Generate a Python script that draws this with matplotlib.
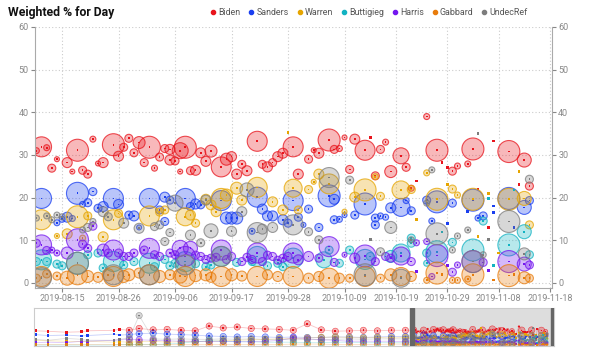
import numpy as np
import pandas as pd
import matplotlib
matplotlib.use("Agg")
import matplotlib.pyplot as plt
import matplotlib.dates as mdates
from matplotlib.colors import to_rgba
from matplotlib.lines import Line2D

plt.rcParams['font.family'] = ['Roboto', 'DejaVu Sans']

# day offsets are counted from 2019-08-15
base = pd.Timestamp('2019-08-15')

names = ['Biden', 'Sanders', 'Warren', 'Buttigieg', 'Harris', 'Gabbard', 'UndecRef']
colors = ['#e8141c', '#1a3ff0', '#e6a500', '#12b3c2', '#7417ef', '#e87c0c', '#7d7d7d']

# Biden
biden_day = [-5, -4, -3, -2, -1, 1, 2, 3, 4, 5, 6, 7, 8, 10, 11, 12, 13, 14, 15, 16, 17, 18, 19, 20, 21, 21, 22, 23, 23, 24,
             25, 26, 27, 28, 29, 31, 32, 33, 34, 35, 36, 38, 39, 40, 41, 42, 43, 45, 46, 48, 49, 50, 52, 53, 54, 55, 56, 57,
             59, 60, 61, 62, 63, 64, 66, 67, 68, 69, 71, 73, 74, 75, 76, 77, 79, 80, 81, 83, 84, 87, 89, 90, 91]
biden_val = [31.0, 31.9, 31.7, 26.9, 29.0, 28.2, 26.1, 31.1, 26.4, 25.5, 33.7, 28.0, 28.2, 32.4, 29.7, 31.8, 33.9, 30.5, 32.9,
             28.2, 31.8, 26.9, 29.5, 31.5, 28.8, 31.3, 28.6, 31.0, 26.1, 31.8, 26.3, 26.4, 30.5, 28.5, 30.9, 27.2, 29.0, 29.6,
             25.5, 27.8, 26.3, 33.2, 27.8, 27.2, 28.2, 29.6, 30.4, 31.9, 25.5, 29.0, 31.1, 30.4, 33.5, 31.3, 31.5, 34.1, 26.6,
             33.7, 31.1, 34.1, 25.1, 31.3, 33.0, 26.1, 29.8, 27.1, 22.2, 23.9, 39.0, 31.1, 28.2, 27.0, 26.2, 27.4, 27.9, 31.4,
             22.0, 13.0, 33.3, 30.8, 23.0, 28.8, 22.7]
biden_wt = [3, 10, 3, 4, 2.5, 5, 2.5, 11, 4, 4, 3, 2.5, 5, 11, 5, 4, 4, 4, 6, 4, 11, 3, 4, 4, 5, 5, 4, 8, 2.5, 11, 4, 5, 5, 5, 6,
            10, 6, 5, 5, 4, 5, 10, 4, 5, 4, 5, 5, 10, 5, 4, 2.5, 5, 11, 4, 3, 2.5, 4, 5, 10, 0, 4, 4, 3, 6, 8, 4, 3, 0, 3, 11,
            0, 0, 4, 3, 3, 11, 0, 0, 0, 11, 0, 7, 4]

# Sanders
sanders_day = [-4, 3, 6, 5, 4, 1, 2, 0, -1, 10, 11, 8, 7, 14, 13, 17, 20, 19, 20, 15, 21, 24, 26, 27, 25, 31, 32, 33, 34, 38,
               39, 40, 41, 43, 44, 37, 45, 48, 46, 50, 47, 52, 53, 53, 54, 55, 57, 59, 61, 61, 62, 63, 64, 66, 68, 67, 71, 72,
               75, 76, 73, 80, 81, 82, 79, 84, 84, 87, 90, 91, 88]
sanders_val = [19.8, 21.0, 21.4, 18.8, 18.4, 15.4, 15.1, 14.9, 14.1, 19.8, 18.4, 17.9, 17.5, 15.7, 15.9, 19.8, 20.1, 17.1, 14.4,
               13.0, 19.4, 19.8, 18.5, 18.3, 17.9, 19.3, 15.2, 15.2, 15.2, 20.1, 17.3, 15.7, 15.7, 14.8, 14.0, 12.1, 19.3, 17.3,
               15.4, 13.0, 13.6, 20.4, 19.6, 14.8, 14.9, 15.9, 15.9, 18.5, 13.6, 15.2, 15.7, 15.4, 17.6, 17.7, 16.9, 19.3, 19.4,
               14.5, 14.0, 18.7, 19.0, 19.4, 15.2, 15.7, 16.7, 18.0, 16.5, 19.8, 17.7, 19.3, 13.0]
sanders_wt = [10, 11, 4, 4, 3, 5, 3, 3, 3, 10, 5, 5, 4, 5, 4, 10, 5, 4, 4, 2.5, 4, 10, 5, 4, 4, 10, 6, 6, 6, 10, 5, 5, 5, 5, 4,
              3, 10, 4, 4, 4, 2.5, 11, 5, 4, 3, 2.5, 4, 11, 4, 4, 3, 3, 5, 9, 4, 3, 4, 3, 0, 4, 11, 11, 3, 4, 0, 0, 0, 11, 7,
              4, 0]

# Warren
warren_day = [-4, 3, -1, 1, 8, 5, 10, 11, 17, 19, 20, 4, 24, 25, 28, 29, 32, 34, 35, 38, 41, 43, 45, 31, 26, 30, 44, 50, 49,
              48, 52, 55, 57, 59, 61, 62, 66, 68, 69, 46, 71, 73, 76, 77, 75, 80, 83, 89, 87, 90, 91, 81, 85]
warren_val = [14.8, 15.5, 11.0, 11.5, 10.8, 15.7, 14.8, 16.3, 15.7, 16.6, 17.1, 10.5, 15.5, 15.9, 19.6, 18.3, 20.6, 22.2, 19.4,
              22.4, 19.0, 17.1, 22.2, 19.8, 14.0, 16.7, 35.2, 25.5, 23.7, 21.9, 23.2, 16.7, 20.1, 21.8, 24.9, 20.3, 21.8, 21.9,
              14.8, 17.1, 25.8, 19.6, 22.0, 20.6, 23.0, 19.6, 21.0, 26.1, 19.6, 19.8, 13.6, 10.9, 7.0]
warren_wt = [10, 11, 2.5, 5, 5, 4, 10, 4, 10, 4, 4, 3, 9, 5, 5, 5, 6, 6, 5, 10, 5, 5, 9, 10, 4, 5, 0, 5, 2.5, 4, 10, 2.5, 5, 11,
             3, 4, 9, 4, 0, 4, 3, 11, 4, 3, 0, 11, 0, 0, 11, 7, 4, 0, 0]

# Buttigieg
buttigieg_day = [-5, -3, -4, 3, 0, -1, 5, 7, 10, 12, 14, 17, 18, 20, 21, 8, 22, 24, 28, 31, 34, 37, 38, 42, 45, 26, 29, 40, 43,
                 51, 52, 54, 56, 59, 60, 64, 66, 68, 68, 71, 73, 74, 76, 71, 80, 82, 83, 84, 87, 90, 91, 88]
buttigieg_val = [5.0, 5.0, 5.4, 4.6, 4.0, 4.4, 6.6, 7.0, 5.0, 4.2, 5.0, 4.6, 3.8, 5.5, 4.0, 3.5, 4.6, 5.0, 3.8, 6.2, 4.8, 5.0,
                 6.2, 4.6, 5.8, 4.5, 4.2, 4.0, 3.8, 5.4, 7.7, 4.6, 7.7, 5.5, 6.2, 6.2, 7.0, 9.3, 10.5, 7.0, 7.3, 11.9, 9.5,
                 4.6, 7.7, 14.5, 19.8, 4.0, 8.9, 12.0, 6.6, 21.8]
buttigieg_wt = [4, 4, 10, 11, 4, 4, 4, 4, 10, 4, 4, 10, 4, 4, 4, 4, 4, 10, 4, 10, 4, 4, 10, 4, 10, 4, 4, 4, 4, 8, 4, 4, 4, 10,
                4, 6, 9, 4, 4, 4, 11, 0, 4, 3, 11, 4, 0, 0, 11, 7, 4, 0]

# Harris
harris_day = [-4, -5, -3, -2, -1, 3, 1, 4, 5, 6, 8, 9, 10, 11, 12, 13, 14, 17, 16, 18, 19, 21, 22, 23, 25, 24, 27, 29, 31, 33,
              35, 38, 39, 41, 43, 45, 26, 28, 30, 32, 36, 37, 40, 42, 44, 46, 48, 50, 52, 53, 55, 57, 59, 61, 63, 64, 66, 68,
              69, 69, 71, 73, 72, 76, 77, 75, 80, 82, 83, 87, 90, 91]
harris_val = [8.9, 9.3, 7.6, 7.7, 7.0, 10.1, 7.0, 9.1, 8.1, 13.3, 7.7, 7.0, 7.7, 7.0, 6.2, 6.2, 7.0, 8.1, 7.7, 6.6, 6.2, 7.0,
              6.6, 8.1, 8.1, 6.2, 6.2, 5.8, 7.7, 6.2, 5.0, 7.0, 5.0, 6.2, 5.8, 7.0, 6.5, 5.5, 6.0, 5.5, 6.0, 5.5, 6.5, 5.3,
              6.2, 5.4, 6.2, 5.8, 8.5, 4.8, 6.6, 5.8, 6.3, 5.0, 6.2, 5.8, 6.3, 5.0, 2.7, 9.4, 9.7, 6.4, 1.5, 2.5, 4.2, 4.0,
              5.0, 4.8, 2.9, 5.0, 4.4, 4.2]
harris_wt = [10, 4, 4, 3, 3, 11, 6, 4, 4, 4, 6, 4, 10, 4, 4, 4, 4, 10, 4, 4, 4, 4, 4, 8, 7, 10, 4, 4, 10, 4, 4, 10, 4, 4, 4, 10,
             4, 4, 4, 4, 4, 4, 4, 4, 4, 5, 5, 4, 10, 4, 2.5, 5, 11, 4, 4, 4, 9, 4, 0, 3, 3, 11, 3, 4, 3, 0, 11, 4, 0, 11, 7, 4]

# Gabbard
gabbard_day = [-4, -5, -3, -1, 1, 3, 5, 7, 9, 10, 12, 13, 15, 17, 19, 21, 23, 24, 26, 28, 29, 31, 33, 35, 38, 40, 42, 45, 48,
               50, 52, 54, 56, 59, 62, 64, 66, 68, 71, 73, 76, 77, 74, 80, 79, 84, 87, 90, 91, 88]
gabbard_val = [1.5, 1.1, 2.1, 1.6, 1.1, 1.9, 1.5, 1.3, 1.9, 1.5, 1.5, 1.9, 2.3, 1.9, 1.5, 1.9, 1.6, 1.5, 1.7, 1.9, 1.3, 1.5,
               1.9, 1.6, 1.5, 1.9, 1.5, 1.5, 1.1, 1.5, 1.1, 1.1, 1.1, 1.5, 1.1, 1.9, 1.5, 1.5, 0.6, 2.3, 0.6, 0.6, 1.9, 1.9,
               0.9, 0.7, 1.7, 1.2, 1.1, 1.9]
gabbard_wt = [10, 4, 4, 4, 7, 10, 6, 5, 6, 10, 6, 6, 5, 10, 6, 5, 7, 10, 6, 6, 5, 10, 6, 5, 10, 5, 5, 10, 5, 5, 10, 5, 4, 10, 4,
              6, 9, 5, 3, 11, 3, 3, 0, 11, 3, 0, 11, 6, 4, 0]

# UndecRef
undec_day = [-5, -3, -2, -1, 0, 6, 5, 4, 8, 9, 12, 15, 18, 19, 20, 22, 21, 25, 27, 29, 33, 35, 36, 39, 41, 28, 48, 50, 56, 60,
             62, 64, 81, 72, 77, 76, 79, 83, 82, 91, 90, 71, 68, -4, 3, 10, 17, 24, 31, 38, 45, 52, 59, 66, 73, 80, 87]
undec_val = [15.2, 15.7, 14.8, 15.9, 15.5, 14.4, 13.0, 12.4, 16.7, 15.5, 14.0, 12.8, 13.2, 13.6, 9.7, 18.7, 11.8, 11.2, 9.4,
             12.2, 12.1, 16.7, 21.8, 12.6, 13.0, 19.4, 12.0, 10.1, 24.1, 10.1, 7.3, 13.0, 35.0, 26.5, 11.0, 7.7, 12.4, 10.1,
             6.6, 24.3, 6.8, 18.7, 10.1, 1.2, 4.6, 1.9, 1.9, 4.2, 6.2, 11.8, 13.6, 24.7, 1.9, 1.1, 11.5, 5.0, 14.4]
undec_wt = [3, 3, 3, 3, 3, 3, 4, 3, 5, 4, 5, 5, 4, 4, 4, 8, 4, 5, 4, 7, 5, 5, 7, 5, 5, 5, 4, 4, 4, 0, 4, 6, 0, 3, 3, 3, 3, 0, 3,
            4, 6, 3, 3, 10, 11, 10, 10, 10, 10, 10, 10, 10, 11, 9, 11, 11, 11]

# navigator history before the main window (day offsets from 2019-08-15)
nav_day = [-274, -265, -252, -241, -237, -218, -214, -207, -200, -190, -180, -170, -160, -150, -140, -130, -120, -110,
           -100, -90, -80, -70, -60, -50, -40, -30, -20, -10]
nav_wt = [0, 0, 0, 0, 0, 0, 0, 9, 9, 9, 9, 9, 9, 9, 9, 9, 9, 9, 9, 9, 9, 9, 9, 9, 9, 9, 9, 9]
nav_biden = [30, 29, 27, 28, 30, 31, 33, 31, 35, 32, 33, 31, 30, 40, 36, 38, 35, 34, 33, 31, 45, 32, 29, 30, 31, 30, 31, 31]
nav_sanders = [22, 20, 21, 19, 20, 23, 21, 22, 24, 25, 23, 22, 21, 19, 18, 17, 18, 17, 16, 17, 16, 16, 17, 17, 16, 17, 18, 18]
nav_warren = [10, 9, 8, 7, 8, 6, 7, 6, 7, 8, 6, 7, 7, 8, 9, 10, 11, 12, 13, 14, 15, 16, 17, 16, 15, 16, 15, 16]
nav_buttigieg = [0, 0, 0, 0, 0, 0, 1, 1, 1, 1, 2, 4, 7, 9, 8, 7, 7, 6, 6, 6, 5, 5, 6, 6, 5, 5, 5, 5]
nav_harris = [5, 6, 5, 8, 8, 10, 11, 12, 11, 10, 9, 8, 8, 7, 8, 7, 7, 8, 10, 15, 13, 11, 10, 8, 8, 8, 8, 7]
nav_gabbard = [1, 1, 1, 1, 1, 1, 1, 1, 1, 1, 1, 1, 1, 1, 1, 1, 1, 1, 1, 2, 2, 2, 1, 1, 1, 1, 2, 2]
nav_undec = [12, 10, 14, 12, 10, 10, 12, 15, 62, 13, 12, 13, 12, 12, 13, 12, 13, 12, 12, 11, 12, 11, 12, 13, 12, 13, 13, 13]

series = [
    (biden_day, biden_val, biden_wt, nav_biden),
    (sanders_day, sanders_val, sanders_wt, nav_sanders),
    (warren_day, warren_val, warren_wt, nav_warren),
    (buttigieg_day, buttigieg_val, buttigieg_wt, nav_buttigieg),
    (harris_day, harris_val, harris_wt, nav_harris),
    (gabbard_day, gabbard_val, gabbard_wt, nav_gabbard),
    (undec_day, undec_val, undec_wt, nav_undec),
]


def to_num(days):
    return mdates.date2num(base + pd.to_timedelta(np.asarray(days, float), unit='D'))


def bubbles(ax, days, vals, wts, color, scale=1.0, dot=1.5):
    x = to_num(days)
    v = np.asarray(vals, float)
    w = np.asarray(wts, float) * scale
    big = w > 0
    ax.scatter(x[big], v[big], s=(1.44 * w[big]) ** 2, facecolor=to_rgba(color, 0.3),
               edgecolor=to_rgba(color, 0.75), linewidth=0.8 * max(scale, 0.5))
    ax.scatter(x, v, s=np.where(big, dot, dot * 2.5), color=color, linewidth=0, marker='s')


fig = plt.figure(figsize=(6, 3.51), dpi=100)

ax = fig.add_axes([35 / 600, 1 - 288 / 351, 517 / 600, 261 / 351])
for (d, v, w, _), c in zip(series, colors):
    bubbles(ax, d, v, w, c)

ax.set_ylim(-1.2, 60)
ax.set_xlim(to_num([-5.27])[0], to_num([95.4])[0])
ax.set_yticks(range(0, 61, 10))
tick_days = [0, 11, 22, 33, 44, 55, 65, 75, 85, 95]
ax.set_xticks(to_num(tick_days))
ax.xaxis.set_major_formatter(mdates.DateFormatter('%Y-%m-%d'))
ax.grid(True, color='#cccccc', linestyle=(0, (1, 2)), linewidth=0.8)
ax.set_axisbelow(True)
ax.tick_params(axis='both', labelsize=6.5, colors='#888888', length=3, width=0.8, pad=1.5)
ax.tick_params(axis='y', right=True, labelright=True)
ax.spines['top'].set_visible(False)
for s in ['left', 'right', 'bottom']:
    ax.spines[s].set_color('#aaaaaa')

# navigator
nav = fig.add_axes([34 / 600, 1 - 346 / 351, 520 / 600, 38 / 351])
for (d, v, w, nv), c in zip(series, colors):
    all_d = np.array(nav_day + list(d), float)
    all_v = np.array(nv + list(v), float)
    order = np.argsort(all_d)
    nav.plot(to_num(all_d[order]), all_v[order], color=c, alpha=0.25, lw=0.6)
    bubbles(nav, nav_day, nv, nav_wt, c, scale=0.35, dot=1.5)
    bubbles(nav, d, v, w, c, scale=0.3, dot=0.8)
sel0, sel1 = to_num([-5.27])[0], to_num([95.4])[0]
nav.axvspan(sel0, sel1, color='#dddddd', zorder=0)
nav.axvspan(sel0 - 1.2, sel0 + 1.2, color='#666666', zorder=5)
nav.axvspan(sel1 - 1.2, sel1 + 1.2, color='#666666', zorder=5)
nav.set_xlim(to_num([-275])[0], to_num([96])[0])
nav.set_ylim(-2, 78)
nav.set_xticks([])
nav.set_yticks([])
for s in nav.spines.values():
    s.set_color('#cccccc')

fig.text(0.014, 0.963, 'Weighted % for Day', fontsize=8.8, fontweight='bold', va='center', color='#111111')
handles = [Line2D([], [], marker='o', ls='', color=c, markersize=3) for c in colors]
fig.legend(handles, names, loc='center', bbox_to_anchor=(0.614, 0.963), ncol=7, frameon=False,
           fontsize=6.4, handletextpad=0.1, columnspacing=0.8, handlelength=0.9, labelcolor='#555555')

fig.savefig('out.png', dpi=100)
